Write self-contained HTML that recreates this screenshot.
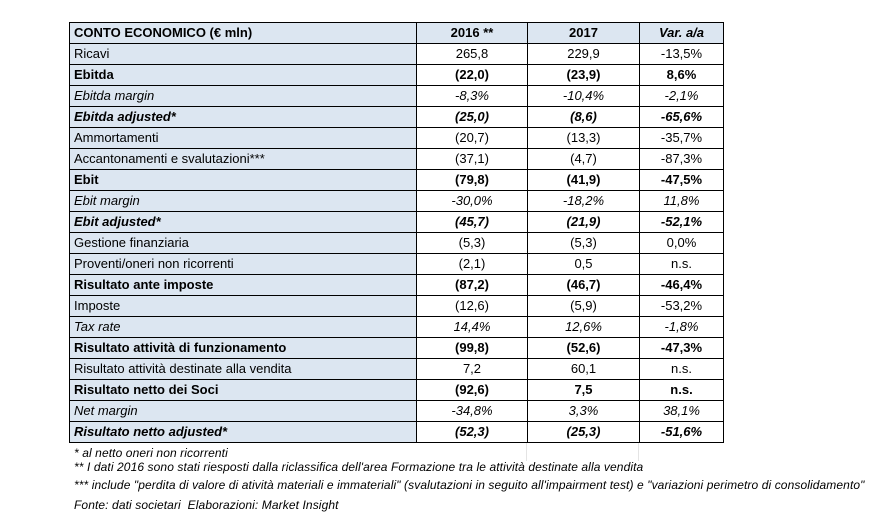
<!DOCTYPE html>
<html><head><meta charset="utf-8"><style>
body{margin:0;width:894px;height:516px;background:#fff;position:relative;overflow:hidden;font-family:"Liberation Sans",sans-serif;color:#000}
table{position:absolute;left:69px;top:22px;border-collapse:collapse;table-layout:fixed;width:654px}
td{border:1px solid #000;height:20px;padding:0 4px;font-size:13px;line-height:20px;white-space:nowrap;overflow:hidden}
td.l{background:#dce6f1;text-align:left}
td.n{text-align:center;background:#fff}
tr.h td{background:#dce6f1;font-weight:bold}
.b td{font-weight:bold}.i td{font-style:italic}.bi td{font-weight:bold;font-style:italic}
.f{position:absolute;left:74px;font-size:12px;letter-spacing:0.1px;font-style:italic;white-space:nowrap;line-height:14px}
.g{position:absolute;background:#e4e4e4;width:1px}
</style></head><body>
<div class="g" style="left:526px;top:443px;height:18px"></div>
<div class="g" style="left:638px;top:443px;height:18px"></div>
<table>
<colgroup><col style="width:347px"><col style="width:111px"><col style="width:112px"><col style="width:84px"></colgroup>
<tr class="h"><td class="l">CONTO ECONOMICO (€ mln)</td><td class="n">2016 **</td><td class="n">2017</td><td class="n"><i>Var. a/a</i></td></tr>
<tr><td class="l">Ricavi</td><td class="n">265,8</td><td class="n">229,9</td><td class="n">-13,5%</td></tr>
<tr class="b"><td class="l">Ebitda</td><td class="n">(22,0)</td><td class="n">(23,9)</td><td class="n">8,6%</td></tr>
<tr class="i"><td class="l">Ebitda margin</td><td class="n">-8,3%</td><td class="n">-10,4%</td><td class="n">-2,1%</td></tr>
<tr class="bi"><td class="l">Ebitda adjusted*</td><td class="n">(25,0)</td><td class="n">(8,6)</td><td class="n">-65,6%</td></tr>
<tr><td class="l">Ammortamenti</td><td class="n">(20,7)</td><td class="n">(13,3)</td><td class="n">-35,7%</td></tr>
<tr><td class="l">Accantonamenti e svalutazioni***</td><td class="n">(37,1)</td><td class="n">(4,7)</td><td class="n">-87,3%</td></tr>
<tr class="b"><td class="l">Ebit</td><td class="n">(79,8)</td><td class="n">(41,9)</td><td class="n">-47,5%</td></tr>
<tr class="i"><td class="l">Ebit margin</td><td class="n">-30,0%</td><td class="n">-18,2%</td><td class="n">11,8%</td></tr>
<tr class="bi"><td class="l">Ebit adjusted*</td><td class="n">(45,7)</td><td class="n">(21,9)</td><td class="n">-52,1%</td></tr>
<tr><td class="l">Gestione finanziaria</td><td class="n">(5,3)</td><td class="n">(5,3)</td><td class="n">0,0%</td></tr>
<tr><td class="l">Proventi/oneri non ricorrenti</td><td class="n">(2,1)</td><td class="n">0,5</td><td class="n">n.s.</td></tr>
<tr class="b"><td class="l">Risultato ante imposte</td><td class="n">(87,2)</td><td class="n">(46,7)</td><td class="n">-46,4%</td></tr>
<tr><td class="l">Imposte</td><td class="n">(12,6)</td><td class="n">(5,9)</td><td class="n">-53,2%</td></tr>
<tr class="i"><td class="l">Tax rate</td><td class="n">14,4%</td><td class="n">12,6%</td><td class="n">-1,8%</td></tr>
<tr class="b"><td class="l">Risultato attività di funzionamento</td><td class="n">(99,8)</td><td class="n">(52,6)</td><td class="n">-47,3%</td></tr>
<tr><td class="l">Risultato attività destinate alla vendita</td><td class="n">7,2</td><td class="n">60,1</td><td class="n">n.s.</td></tr>
<tr class="b"><td class="l">Risultato netto dei Soci</td><td class="n">(92,6)</td><td class="n">7,5</td><td class="n">n.s.</td></tr>
<tr class="i"><td class="l">Net margin</td><td class="n">-34,8%</td><td class="n">3,3%</td><td class="n">38,1%</td></tr>
<tr class="bi"><td class="l">Risultato netto adjusted*</td><td class="n">(52,3)</td><td class="n">(25,3)</td><td class="n">-51,6%</td></tr>
</table>
<div class="f" style="top:446px">* al netto oneri non ricorrenti</div>
<div class="f" style="top:460px">** I dati 2016 sono stati riesposti dalla riclassifica dell'area Formazione tra le attività destinate alla vendita</div>
<div class="f" style="top:478px">*** include "perdita di valore di atività materiali e immateriali" (svalutazioni in seguito all'impairment test) e "variazioni perimetro di consolidamento"</div>
<div class="f" style="top:498px">Fonte: dati societari&nbsp; Elaborazioni: Market Insight</div>
</body></html>
